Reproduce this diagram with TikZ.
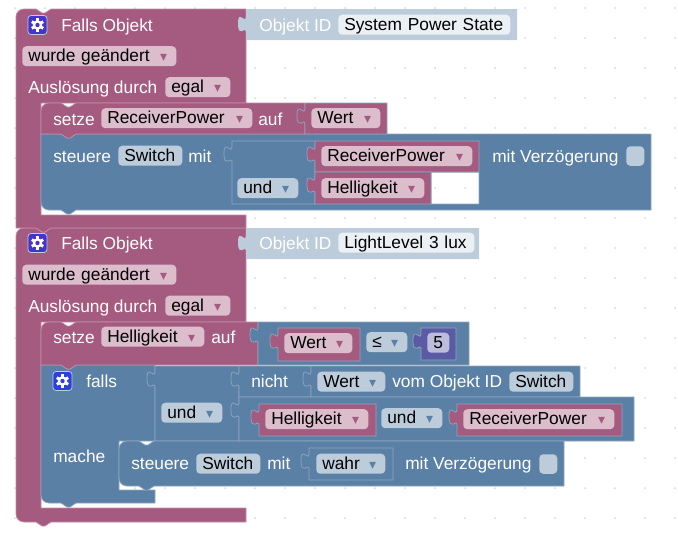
\documentclass[tikz,border=0pt]{standalone}
\usepackage{fontspec}
\setmainfont{Liberation Sans}
\newfontfamily\dropfont{DejaVu Sans}
\usepackage{tikz}
\definecolor{blockred}{HTML}{A55B80}
\definecolor{blockblue}{HTML}{5B80A5}
\definecolor{blockpale}{HTML}{BDCCDB}
\definecolor{blockviolet}{HTML}{5B5BA5}
\definecolor{fieldred}{HTML}{DBBDCC}
\definecolor{fieldblue}{HTML}{BDCCDB}
\definecolor{fieldviolet}{HTML}{BDBDDB}
\definecolor{fieldpale}{HTML}{EBF0F5}
\definecolor{linered}{HTML}{C08CA6}
\definecolor{lineblue}{HTML}{8CA6C0}
\definecolor{griddot}{HTML}{D8D8D8}
\definecolor{gearviolet}{HTML}{4433CC}
\definecolor{gearblue}{HTML}{2D3FDD}
\newlength{\px}
\setlength{\px}{0.75pt}
\newcommand*{\notchtop}[2]{-- ({#1+20},#2) -- ++(6,4) -- ++(3,0) -- ++(6,-4)}
\newcommand*{\notchbot}[2]{-- ({#1+35},#2) -- ++(-6,4) -- ++(-3,0) -- ++(-6,-4)}
\newcommand*{\tabin}[2]{-- (#1,#2) .. controls (#1,{#2+10}) and ({#1-8},{#2-8}) .. ({#1-8},{#2+7.5}) .. controls ({#1-8},{#2+23}) and (#1,{#2+10}) .. (#1,{#2+15})}
\newcommand*{\dropred}{\hfill{\dropfont\fontsize{10.5}{11}\selectfont\color{blockred}▾}\hspace*{3\px}}
\newcommand*{\dropblue}{\hfill{\dropfont\fontsize{10.5}{11}\selectfont\color{blockblue}▾}\hspace*{3\px}}
\tikzset{
  redblock/.style={fill=blockred,draw=linered,line width=0.75\px,line join=round},
  blueblock/.style={fill=blockblue,draw=lineblue,line width=0.75\px,line join=round},
  redvalue/.style={fill=blockred,draw=lineblue,line width=0.75\px,line join=round},
  paleblock/.style={fill=blockpale,draw=none},
  violetblock/.style={fill=blockviolet,draw=lineblue,line width=0.75\px},
  label/.style={anchor=west,text=white,inner sep=0pt,font=\fontsize{13}{15}\selectfont,text height=11.2pt,text depth=2.2pt},
  fieldbase/.style={anchor=north west,yshift=0.4pt,rounded corners=4\px,text=black,inner xsep=4.5pt,inner ysep=0.8pt,
    font=\fontsize{13}{15}\selectfont,text height=10.8pt,text depth=2.6pt},
  redfield/.style={fieldbase,fill=fieldred},
  bluefield/.style={fieldbase,fill=fieldblue},
  palefield/.style={fieldbase,fill=fieldpale},
  violetfield/.style={fieldbase,fill=fieldviolet},
  checkbox/.style={anchor=north west,rounded corners=4\px,fill=fieldblue,inner sep=0pt,minimum width=18\px,minimum height=19.5\px},
  gearbox/.style={rounded corners=3\px,draw=fieldblue,line width=0.75\px,inner sep=0pt,minimum size=19\px},
}
\newcommand*{\gearicon}[2]{%
  \fill[white] (#1.center) circle (4.8);
  \foreach \toothangle in {0,60,...,300}
    \draw[white,line width=2.8\px] (#1.center) -- ++(\toothangle+30:6.6);
  \fill[#2] (#1.center) circle (2.2);
}
\begin{document}
\begin{tikzpicture}[x=0.75pt,y=-0.75pt]
  \useasboundingbox (0,0) rectangle (678,536);

  % workspace grid
  \foreach \dotx in {15,45,...,675}
    \foreach \doty in {8,38,...,518}
      \fill[griddot] (\dotx,\doty) circle (1);

  % second trigger
  \draw[redblock] (16,236) .. controls (16,231.5) and (19.5,228) .. (24,228) \notchtop{16}{228} -- (246,228) -- (246,322)
    -- (41,322) -- (41,508) -- (246,508) -- (246,522) \notchbot{16}{522} -- (24,522) .. controls (19.5,522) and (16,518.5) .. (16,514) -- cycle;
  \draw[paleblock] (246,228) \tabin{246}{235} -- (246,259) -- (479,259) -- (479,228) -- cycle;

  % falls with its condition
  \draw[blueblock] (41,365) \notchtop{41}{365} -- (155,365) -- (155,441) -- (119,441) -- (119,490) -- (155,490) -- (155,503)
    \notchbot{41}{503} -- (49,503) .. controls (44.5,503) and (41,499.5) .. (41,495) -- cycle;
  \draw[blueblock] (155,366) \tabin{155}{371} -- (155,441) -- (239,441) -- (239,366) -- cycle;
  \draw[blueblock] (239,366) \tabin{239}{371} -- (239,397) -- (311,397) -- (311,366) -- cycle;
  \draw[blueblock] (311,366) \tabin{311}{371} -- (311,397) -- (580,397) -- (580,366) -- cycle;
  \draw[blueblock] (239,397) \tabin{239}{402} -- (239,441) -- (634,441) -- (634,397) -- cycle;
  \draw[redvalue] (259,404) \tabin{259}{409} -- (259,436) -- (376,436) -- (376,404) -- cycle;
  \draw[redvalue] (457,404) \tabin{457}{409} -- (457,436) -- (622,436) -- (622,404) -- cycle;

  \draw[blueblock] (119,449) .. controls (119,444.5) and (122.5,441) .. (127,441) \notchtop{119}{441} -- (564,441) -- (564,486)
    \notchbot{119}{486} -- (127,486) .. controls (122.5,486) and (119,482.5) .. (119,478) -- cycle;
  \draw[blueblock] (309,448) \tabin{309}{453} -- (309,480) -- (393,480) -- (393,448) -- cycle;

  % setze Helligkeit
  \draw[redblock] (41,330) .. controls (41,325.5) and (44.5,322) .. (49,322) \notchtop{41}{322} -- (258,322) -- (258,365)
    \notchbot{41}{365} -- (41,365) -- cycle;
  \draw[blueblock] (258,322) \tabin{258}{327} -- (258,365) -- (469,365) -- (469,322) -- cycle;
  \draw[redvalue] (278,328) \tabin{278}{333} -- (278,361) -- (360,361) -- (360,328) -- cycle;
  \draw[violetblock] (421,328) \tabin{421}{333} -- (421,360) -- (456,360) -- (456,328) -- cycle;

  % first trigger
  \draw[redblock] (16,17) .. controls (16,12.5) and (19.5,9) .. (24,9) \notchtop{16}{9} -- (246,9) -- (246,103)
    -- (41,103) -- (41,215) -- (246,215) -- (246,228) \notchbot{16}{228} -- (16,228) -- cycle;
  \draw[paleblock] (246,9) \tabin{246}{16} -- (246,40) -- (517,40) -- (517,9) -- cycle;

  % steuere with its und block, the hole stays open
  \draw[blueblock,even odd rule] (41,134) \notchtop{41}{134} -- (651,134) -- (651,210) \notchbot{41}{210} -- (49,210)
    .. controls (44.5,210) and (41,206.5) .. (41,202) -- cycle (431,172) rectangle (479,204);
  \draw[blueblock] (232,141) \tabin{232}{146} -- (232,204) -- (315,204) -- (315,141) -- cycle;
  \draw[redvalue] (315,141) \tabin{315}{146} -- (315,172) -- (479,172) -- (479,141) -- cycle;
  \draw[redvalue] (315,172) \tabin{315}{177} -- (315,204) -- (431,204) -- (431,172) -- cycle;

  % setze ReceiverPower
  \draw[redblock] (41,111) .. controls (41,106.5) and (44.5,103) .. (49,103) \notchtop{41}{103} -- (305,103) -- (305,134)
    \notchbot{41}{134} -- (41,134) -- cycle;
  \draw[redvalue] (305,103) \tabin{305}{108} -- (305,134) -- (387,134) -- (387,103) -- cycle;

  % icons
  \node[gearbox,fill=gearviolet] (gear_1) at (37.5,25) {};
  \gearicon{gear_1}{gearviolet}
  \node[gearbox,fill=gearviolet] (gear_2) at (37.5,243) {};
  \gearicon{gear_2}{gearviolet}
  \node[gearbox,fill=gearblue] (gear_3) at (62.5,381) {};
  \gearicon{gear_3}{gearblue}

  % first trigger texts
  \node[label] (falls_1) at (61,25) {Falls Objekt};
  \node[label] (objekt_1) at (259,25) {Objekt ID};
  \node[palefield,text width=160\px] (power) at (338,15) {System Power State};
  \node[redfield,text width=142\px] (wurde_1) at (22,46.5) {wurde geändert\dropred};
  \node[label] (ausl_1) at (28,87) {Auslösung durch};
  \node[redfield,text width=53\px] (egal_1) at (165,77.5) {egal\dropred};
  \node[label] (setze_1) at (53,119) {setze};
  \node[redfield,text width=139\px] (recv_1) at (101,108.5) {ReceiverPower\dropred};
  \node[label] (auf_1) at (258,119) {auf};
  \node[redfield,text width=57\px] (wert_1) at (311,108.5) {Wert\dropred};
  \node[label] (steuere_1) at (53,156) {steuere};
  \node[bluefield,text width=52\px] (switch_1) at (118,146) {Switch};
  \node[label] (mit_1) at (188,156) {mit};
  \node[bluefield,text width=49\px] (und_1) at (237,178.5) {und\dropblue};
  \node[redfield,text width=139\px] (recv_2) at (321,146.5) {ReceiverPower\dropred};
  \node[redfield,text width=91\px] (hell_1) at (321,178.5) {Helligkeit\dropred};
  \node[label] (verz_1) at (492,156) {mit Verzögerung};
  \node[checkbox] (check_1) at (626,146) {};

  % second trigger texts
  \node[label] (falls_2) at (61,243) {Falls Objekt};
  \node[label] (objekt_2) at (259,243) {Objekt ID};
  \node[palefield,text width=124\px] (light) at (338,233) {LightLevel 3 lux};
  \node[redfield,text width=142\px] (wurde_2) at (22,265) {wurde geändert\dropred};
  \node[label] (ausl_2) at (28,306) {Auslösung durch};
  \node[redfield,text width=53\px] (egal_2) at (165,296) {egal\dropred};
  \node[label] (setze_2) at (53,337) {setze};
  \node[redfield,text width=91\px] (hell_2) at (101,327) {Helligkeit\dropred};
  \node[label] (auf_2) at (211,337) {auf};
  \node[redfield,text width=56\px] (wert_2) at (284,333.5) {Wert\dropred};
  \node[bluefield,text width=29\px] (leq) at (366,332.5) {≤\dropblue};
  \node[violetfield,text width=10\px] (five) at (427,333) {5};

  % falls texts
  \node[label] (falls_3) at (86,381) {falls};
  \node[label] (mache) at (53,456) {mache};
  \node[bluefield,text width=49\px] (und_2) at (161,403) {und\dropblue};
  \node[label] (nicht) at (251,381) {nicht};
  \node[bluefield,text width=56\px] (wert_3) at (317,372) {Wert\dropblue};
  \node[label] (vom) at (392,381) {vom Objekt ID};
  \node[bluefield,text width=52\px] (switch_2) at (509,372) {Switch};
  \node[redfield,text width=91\px] (hell_3) at (265,409.5) {Helligkeit\dropred};
  \node[bluefield,text width=49\px] (und_3) at (381,408.5) {und\dropblue};
  \node[redfield,text width=139\px] (recv_3) at (463,409.5) {ReceiverPower\dropred};
  \node[label] (steuere_2) at (131,463) {steuere};
  \node[bluefield,text width=52\px] (switch_3) at (196,454) {Switch};
  \node[label] (mit_2) at (267,463) {mit};
  \node[bluefield,text width=57\px] (wahr) at (316,454) {wahr\dropblue};
  \node[label] (verz_2) at (405,463) {mit Verzögerung};
  \node[checkbox] (check_2) at (539,454) {};
\end{tikzpicture}
\end{document}
